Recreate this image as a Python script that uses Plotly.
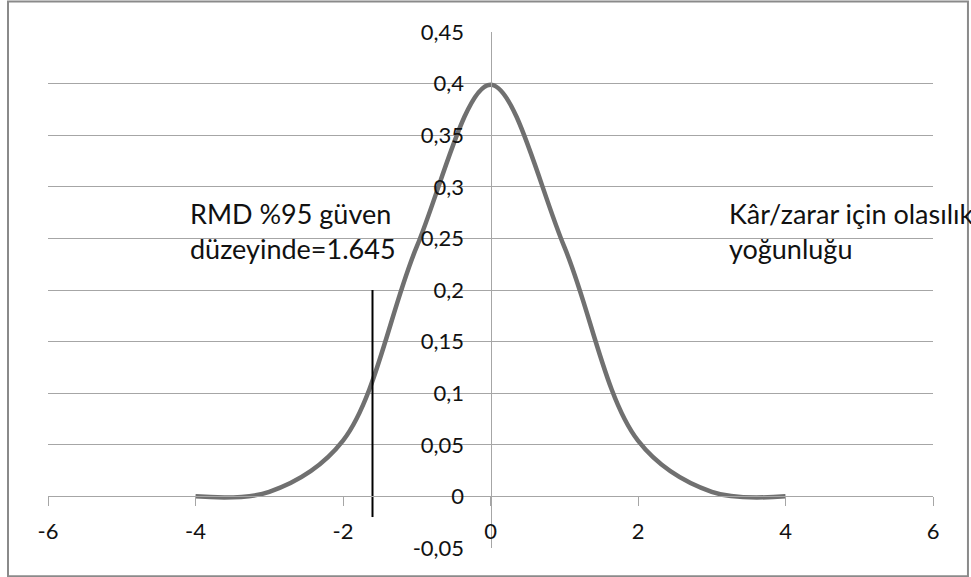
import plotly.graph_objects as go

# Data
x_vals = [-4, -3, -2, -1, 0, 1, 2, 3, 4]
density = [0.0001, 0.0044, 0.054, 0.242, 0.399, 0.242, 0.054, 0.0044, 0.0001]
var_x = [-1.6, -1.6]
var_y = [-0.02, 0.2]
x_ticks = [-6, -4, -2, 0, 2, 4, 6]
y_ticks = [-0.05, 0, 0.05, 0.1, 0.15, 0.2, 0.25, 0.3, 0.35, 0.4, 0.45]
y_tick_text = ["-0,05", "0", "0,05", "0,1", "0,15", "0,2", "0,25", "0,3", "0,35", "0,4", "0,45"]
label_left = "RMD %95 güven<br>düzeyinde=1.645"
label_right = "Kâr/zarar için olasılık<br>yoğunluğu"

FONT = "Lato"
GRID = "#a6a6a6"
TXT = "#111111"

fig = go.Figure()
fig.add_trace(go.Scatter(
    x=x_vals, y=density, mode="lines",
    line=dict(color="#707070", width=4.5, shape="spline", smoothing=1.0),
    hoverinfo="skip", showlegend=False))
fig.add_trace(go.Scatter(
    x=var_x, y=var_y, mode="lines",
    line=dict(color="#000000", width=2),
    hoverinfo="skip", showlegend=False))

fig.update_layout(
    width=971, height=577,
    margin=dict(l=48, r=38, t=32, b=29),
    paper_bgcolor="white", plot_bgcolor="white",
    font=dict(family=FONT, size=22, color=TXT),
    xaxis=dict(range=[-6, 6], tickmode="array", tickvals=x_ticks,
               ticktext=[str(v) for v in x_ticks],
               showgrid=False, zeroline=False,
               showline=True, linecolor=GRID, linewidth=1,
               ticks="outside", ticklen=9, tickcolor=GRID, tickwidth=1,
               anchor="free", position=0.1, ticklabelstandoff=6,
               tickfont=dict(family=FONT, size=22, color=TXT)),
    yaxis=dict(range=[-0.05, 0.45], tickmode="array", tickvals=y_ticks,
               ticktext=y_tick_text,
               showgrid=True, gridcolor=GRID, gridwidth=1, zeroline=False,
               showline=True, linecolor=GRID, linewidth=1,
               ticks="", anchor="free", position=0.5, ticklabelstandoff=22,
               tickfont=dict(family=FONT, size=22, color=TXT)),
    annotations=[
        dict(x=-4.1, y=0.257, xref="x", yref="y", text=label_left,
             showarrow=False, xanchor="left", yanchor="middle", align="left",
             font=dict(family=FONT, size=27, color=TXT)),
        dict(x=3.21, y=0.257, xref="x", yref="y", text=label_right,
             showarrow=False, xanchor="left", yanchor="middle", align="left",
             font=dict(family=FONT, size=27, color=TXT)),
    ],
    shapes=[
        dict(type="rect", xref="paper", yref="paper",
             x0=-0.0452, x1=1.0395, y0=-0.0548, y1=1.0593,
             line=dict(color="#8a8a8a", width=2), fillcolor="rgba(0,0,0,0)",
             layer="below"),
    ],
)

fig.write_html("out.html")
